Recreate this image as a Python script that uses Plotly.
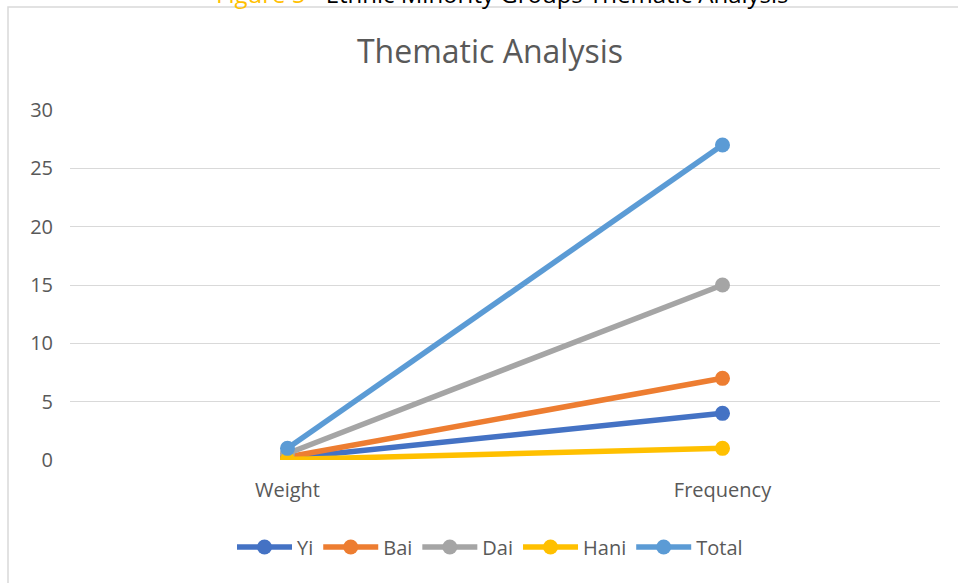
import plotly.graph_objects as go

# Thematic analysis values per ethnic minority group
categories = ["Weight", "Frequency"]
series_names = ["Yi", "Bai", "Dai", "Hani", "Total"]
yi = [0.15, 4]
bai = [0.26, 7]
dai = [0.56, 15]
hani = [0.04, 1]
total = [1, 27]
colors = ["#4472C4", "#ED7D31", "#A5A5A5", "#FFC000", "#5B9BD5"]
y_ticks = [0, 5, 10, 15, 20, 25, 30]

# plot area geometry (pixels) used to place the frame and caption
W, H = 958, 583
L, R, T, B = 70, 18, 110, 123
pw, ph = W - L - R, H - T - B

def px_x(x):
    return (x - L) / pw

def px_y(y):
    return (H - B - y) / ph

fig = go.Figure()
for name, vals, col in zip(series_names, [yi, bai, dai, hani, total], colors):
    fig.add_trace(go.Scatter(
        x=categories, y=vals, name=name, mode="lines+markers",
        line=dict(color=col, width=5.5),
        marker=dict(color=col, size=15),
    ))

font = "Open Sans, Lato, sans-serif"
fig.update_layout(
    width=W, height=H,
    margin=dict(l=L, r=R, t=T, b=B),
    paper_bgcolor="white", plot_bgcolor="white",
    title=dict(text="Thematic Analysis", x=490 / W, xanchor="center",
               y=1 - 52 / H, yanchor="middle",
               font=dict(family=font, size=32, color="#595959")),
    font=dict(family=font, color="#595959"),
    xaxis=dict(showgrid=False, showline=False, zeroline=False,
               tickfont=dict(size=20, color="#595959"), ticklabelstandoff=16,
               range=[-0.5, 1.5]),
    yaxis=dict(range=[0, 30], tickvals=y_ticks, showgrid=True, gridcolor="#D9D9D9",
               gridwidth=1.3, zeroline=False, showline=False,
               tickfont=dict(size=20, color="#595959"), ticklabelstandoff=16),
    legend=dict(orientation="h", x=px_x(490), xanchor="center", y=px_y(547), yanchor="middle",
                font=dict(size=20, color="#595959"), itemwidth=55, traceorder="normal"),
    showlegend=True,
)

# outer chart frame
fig.add_shape(type="rect", xref="paper", yref="paper",
              x0=px_x(8), x1=px_x(W + 20), y0=px_y(H + 20), y1=px_y(7),
              line=dict(color="#D9D9D9", width=1.5), fillcolor="rgba(0,0,0,0)", layer="below")

# document caption above the chart, running off the top of the page
fig.add_annotation(xref="paper", yref="paper", x=px_x(502), y=px_y(12),
                   xanchor="center", yanchor="bottom", showarrow=False,
                   text="<span style='color:#FFC000'>Figure 5</span> - Ethnic Minority Groups Thematic Analysis",
                   font=dict(family=font, size=24, color="#000000"))

fig.write_html("out.html")
